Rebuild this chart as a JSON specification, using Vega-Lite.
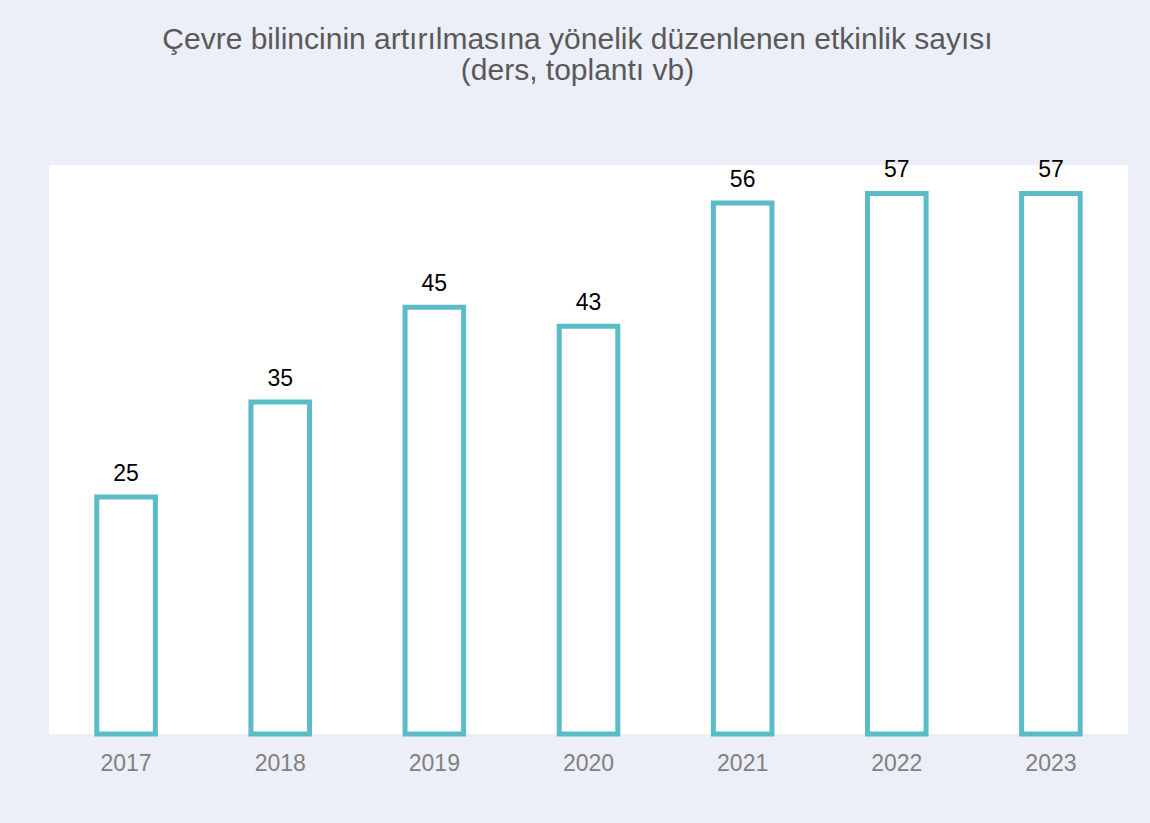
{
  "$schema": "https://vega.github.io/schema/vega-lite/v6.json",
  "width": 1079,
  "height": 569,
  "autosize": {"type": "none"},
  "padding": {"left": 49, "top": 165, "right": 22, "bottom": 89},
  "background": "#eceff8",
  "config": {
    "view": {"fill": "white", "stroke": null},
    "font": "Liberation Sans"
  },
  "title": {
    "text": ["Çevre bilincinin artırılmasına yönelik düzenlenen etkinlik sayısı", "(ders, toplantı vb)"],
    "font": "Liberation Sans",
    "fontSize": 30,
    "fontWeight": "normal",
    "color": "#595959",
    "anchor": "middle",
    "offset": 73,
    "lineHeight": 31,
    "limit": 1100,
    "dx": -11
  },
  "data": {
    "values": [
      {"year": "2017", "value": 25},
      {"year": "2018", "value": 35},
      {"year": "2019", "value": 45},
      {"year": "2020", "value": 43},
      {"year": "2021", "value": 56},
      {"year": "2022", "value": 57},
      {"year": "2023", "value": 57}
    ]
  },
  "encoding": {
    "x": {
      "field": "year",
      "type": "nominal",
      "scale": {"paddingInner": 0.62, "paddingOuter": 0.31},
      "axis": {
        "title": null,
        "labelAngle": 0,
        "labelFontSize": 23,
        "labelColor": "#808080",
        "labelPadding": 18,
        "ticks": false,
        "domain": false
      }
    },
    "y": {
      "field": "value",
      "type": "quantitative",
      "scale": {"domain": [0, 60]},
      "axis": null
    }
  },
  "layer": [
    {
      "mark": {"type": "bar", "fill": "white", "stroke": "#5bbcc8", "strokeWidth": 5}
    },
    {
      "mark": {"type": "text", "fontSize": 23, "color": "black", "dy": -16, "baseline": "alphabetic"},
      "encoding": {"text": {"field": "value", "type": "quantitative"}}
    }
  ]
}
